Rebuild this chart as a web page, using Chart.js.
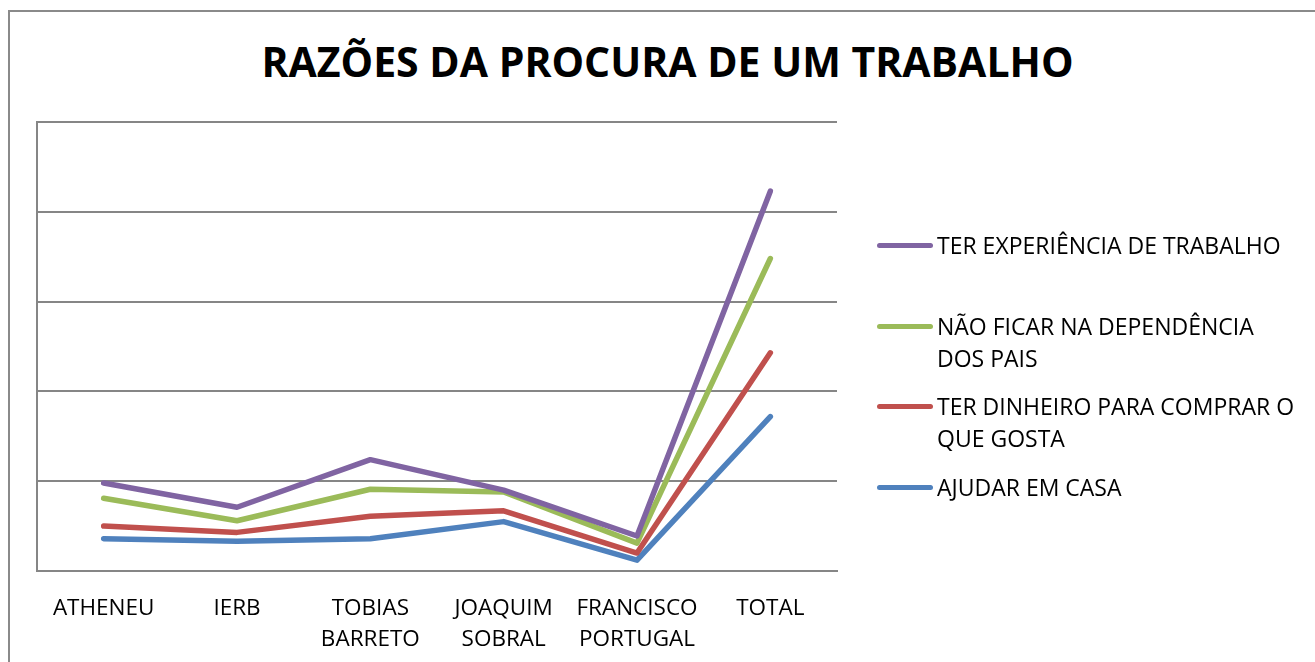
<!DOCTYPE html>
<html>
<head>
<meta charset="utf-8">
<script src="https://cdn.jsdelivr.net/npm/chart.js@4"></script>
<style>
body { margin: 0; background: #fff; }
#wrap { position: relative; width: 1315px; height: 662px; overflow: hidden; }
#frame { position: absolute; left: 8px; top: 10px; width: 1320px; height: 660px; border: 2px solid #8a8a8a; box-sizing: border-box; }
#title { position: absolute; left: 0; width: 1335px; top: 33px; text-align: center; font-family: "Open Sans", sans-serif; font-weight: bold; font-size: 41px; color: #000; }
#chartBox { position: absolute; left: 0; top: 0; width: 1315px; height: 662px; }
#legend { position: absolute; left: 877px; top: 0; font-family: "Open Sans", sans-serif; font-size: 23px; color: #000; }
.item { position: absolute; left: 0; width: 430px; }
.item .mark { position: absolute; left: 0; width: 56px; height: 5px; border-radius: 3px; }
.item .txt { position: absolute; left: 60px; line-height: 32px; white-space: nowrap; }
</style>
</head>
<body>
<div id="wrap">
  <div id="frame"></div>
  <div id="title">RAZÕES DA PROCURA DE UM TRABALHO</div>
  <div id="chartBox"><canvas id="chartRazoes"></canvas></div>
  <div id="legend"></div>
</div>
<script>
var escolas = [["ATHENEU"], ["IERB"], ["TOBIAS", "BARRETO"], ["JOAQUIM", "SOBRAL"], ["FRANCISCO", "PORTUGAL"], ["TOTAL"]];

var experiencia = [0.98, 0.71, 1.24, 0.90, 0.39, 4.23];
var naoDependencia = [0.81, 0.56, 0.91, 0.88, 0.31, 3.48];
var dinheiro = [0.50, 0.43, 0.61, 0.67, 0.20, 2.43];
var ajudarCasa = [0.36, 0.33, 0.36, 0.55, 0.12, 1.72];

var nomes = [
    ["TER EXPERIÊNCIA DE TRABALHO"],
    ["NÃO FICAR NA DEPENDÊNCIA", "DOS PAIS"],
    ["TER DINHEIRO PARA COMPRAR O", "QUE GOSTA"],
    ["AJUDAR EM CASA"]
];
var cores = ['#8064A2', '#9BBB59', '#C0504D', '#4F81BD'];

var chartRazoes = new Chart(document.getElementById("chartRazoes"), {
    type: 'line',
    data: {
        labels: escolas,
        datasets: [{
            label: nomes[0].join(' '),
            borderColor: cores[0],
            backgroundColor: cores[0],
            data: experiencia,
            fill: false,
        },
        {
            label: nomes[1].join(' '),
            borderColor: cores[1],
            backgroundColor: cores[1],
            data: naoDependencia,
            fill: false,
        },
        {
            label: nomes[2].join(' '),
            borderColor: cores[2],
            backgroundColor: cores[2],
            data: dinheiro,
            fill: false,
        },
        {
            label: nomes[3].join(' '),
            borderColor: cores[3],
            backgroundColor: cores[3],
            data: ajudarCasa,
            fill: false,
        }]
    },
    options: {
        responsive: true,
        maintainAspectRatio: false,
        animation: false,
        layout: { padding: { left: 37, top: 122, right: 478, bottom: 0 } },
        elements: {
            line: { borderWidth: 5.5, tension: 0, borderCapStyle: 'round', borderJoinStyle: 'round' },
            point: { radius: 0, hoverRadius: 0 }
        },
        plugins: {
            legend: { display: false },
            title: { display: false },
            tooltip: { enabled: false }
        },
        scales: {
            x: {
                offset: true,
                grid: { display: false },
                border: { display: true, color: '#868686', width: 2 },
                ticks: {
                    color: '#000',
                    padding: 14,
                    maxRotation: 0,
                    autoSkip: false,
                    font: { family: 'Open Sans', size: 22.5, lineHeight: 1.38 }
                },
                afterFit: function(scale) { scale.height = 91; }
            },
            y: {
                min: 0,
                max: 5,
                ticks: { display: false, stepSize: 1 },
                grid: { color: '#868686', lineWidth: 2, drawTicks: false },
                border: { display: true, color: '#868686', width: 2 },
                afterFit: function(scale) { scale.width = 0; }
            }
        }
    }
});

// legenda em html, porque as etiquetas quebram em duas linhas
var legendTops = [245, 326, 406, 487];
var legend = document.getElementById("legend");
for (var i = 0; i < nomes.length; i++) {
    var item = document.createElement("div");
    item.className = "item";
    item.style.top = legendTops[i] + "px";
    var mark = document.createElement("div");
    mark.className = "mark";
    mark.style.background = cores[i];
    mark.style.top = "-2px";
    var txt = document.createElement("div");
    txt.className = "txt";
    txt.style.top = "-16px";
    txt.innerHTML = nomes[i].join("<br>");
    item.appendChild(mark);
    item.appendChild(txt);
    legend.appendChild(item);
}
</script>
</body>
</html>
